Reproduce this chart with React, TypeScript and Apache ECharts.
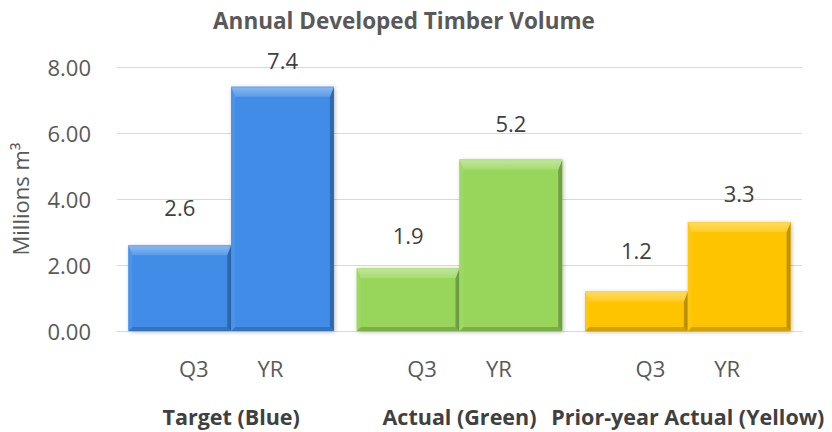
import React, { useEffect, useRef } from "react";
import * as echarts from "echarts";

// Chart data
const groups = ["Target (Blue)", "Actual (Green)", "Prior-year Actual (Yellow)"];
const periods = ["Q3", "YR"];
const q3Values = [2.6, 1.9, 1.2];
const yrValues = [7.4, 5.2, 3.3];
const yTicks = [0, 2, 4, 6, 8];

// Styling
const groupColors = ["#3f8ce6", "#97d65a", "#fec400"];
const FONT = "'Open Sans', 'DejaVu Sans', sans-serif";
// how far each value label sits above the top of its bar (px)
const labelLift = [
  [38, 33, 41],
  [27, 36, 29],
];

function shade(hex: string, amt: number): string {
  const n = parseInt(hex.slice(1), 16);
  let r = (n >> 16) & 255;
  let g = (n >> 8) & 255;
  let b = n & 255;
  const f = (c: number) =>
    Math.round(amt >= 0 ? c + (255 - c) * amt : c * (1 + amt));
  r = f(r);
  g = f(g);
  b = f(b);
  return "#" + ((1 << 24) | (r << 16) | (g << 8) | b).toString(16).slice(1);
}

function bevelSeries(values: number[], slot: number) {
  return {
    type: "custom",
    name: periods[slot],
    coordinateSystem: "cartesian2d",
    data: values.map((v, i) => [i, v]),
    encode: { x: 0, y: 1 },
    z: 3,
    renderItem: (_params: any, api: any) => {
      const i = api.value(0) as number;
      const v = api.value(1) as number;
      const base = api.coord([i, 0]);
      const top = api.coord([i, v]);
      const band = api.size([1, 0])[0];
      const barW = (band * 0.9) / 2;
      const x0 = base[0] - barW + slot * barW;
      const x1 = x0 + barW;
      const y0 = top[1];
      const y1 = base[1];
      const color = groupColors[i];
      const bt = 10; // top facet
      const bs = 4; // side facets
      const bb = 4; // bottom facet
      return {
        type: "group",
        children: [
          {
            type: "rect",
            shape: { x: x0, y: y0, width: barW, height: y1 - y0 },
            style: {
              fill: color,
              shadowColor: "rgba(0,0,0,0.28)",
              shadowBlur: 4,
              shadowOffsetX: 1,
              shadowOffsetY: 1,
            },
          },
          {
            type: "polygon",
            shape: {
              points: [
                [x0, y1],
                [x1, y1],
                [x1 - bs, y1 - bb],
                [x0 + bs, y1 - bb],
              ],
            },
            style: { fill: shade(color, -0.18) },
          },
          {
            type: "polygon",
            shape: {
              points: [
                [x1, y0],
                [x1, y1],
                [x1 - bs, y1 - bb],
                [x1 - bs, y0 + bt],
              ],
            },
            style: { fill: shade(color, -0.25) },
          },
          {
            type: "polygon",
            shape: {
              points: [
                [x0, y0],
                [x0, y1],
                [x0 + bs, y1 - bb],
                [x0 + bs, y0 + bt],
              ],
            },
            style: { fill: shade(color, 0.06) },
          },
          {
            type: "polygon",
            shape: {
              points: [
                [x0, y0],
                [x1, y0],
                [x1 - bs, y0 + bt],
                [x0 + bs, y0 + bt],
              ],
            },
            style: {
              fill: new echarts.graphic.LinearGradient(0, 0, 0, 1, [
                { offset: 0, color: shade(color, 0.4) },
                { offset: 1, color: shade(color, 0.14) },
              ]),
            },
          },
          {
            type: "line",
            shape: { x1: x0, y1: y0 + 0.5, x2: x1, y2: y0 + 0.5 },
            style: { stroke: shade(color, 0.25), lineWidth: 1 },
          },
          {
            type: "text",
            style: {
              text: v.toFixed(1),
              x: (x0 + x1) / 2,
              y: y0 - labelLift[slot][i],
              align: "center",
              verticalAlign: "middle",
              fill: "#404040",
              font: `22px ${FONT}`,
            },
          },
        ],
      };
    },
  };
}

export default function App() {
  const ref = useRef<HTMLDivElement>(null);

  useEffect(() => {
    if (!ref.current) return;
    const chart = echarts.init(ref.current, undefined, { renderer: "svg" });
    chart.setOption({
      animation: false,
      backgroundColor: "#ffffff",
      textStyle: { fontFamily: FONT },
      title: {
        text: "Annual Developed Timber Volume",
        left: 399,
        top: 4,
        textAlign: "center",
        textStyle: {
          fontFamily: FONT,
          fontSize: 22.5,
          fontWeight: "bold",
          color: "#595959",
        },
      },
      grid: { left: 117, right: 30, top: 67, bottom: 101, containLabel: false },
      xAxis: {
        type: "category",
        data: groups,
        axisLine: { show: true, lineStyle: { color: "#d9d9d9", width: 1 } },
        axisTick: { show: false },
        axisLabel: {
          interval: 0,
          margin: 12,
          formatter: (v: string) =>
            `{q|${periods[0]}}{sp| }{q|${periods[1]}}\n{g|${v}}`,
          rich: {
            q: { fontFamily: FONT, fontSize: 22, color: "#595959", lineHeight: 49 },
            sp: { width: 49, fontSize: 22, lineHeight: 49 },
            g: {
              fontFamily: FONT,
              fontSize: 21.5,
              fontWeight: "bold",
              color: "#404040",
              lineHeight: 49,
            },
          },
        },
      },
      yAxis: {
        type: "value",
        min: yTicks[0],
        max: yTicks[yTicks.length - 1],
        interval: yTicks[1] - yTicks[0],
        name: "Millions m³",
        nameLocation: "middle",
        nameRotate: 90,
        nameGap: 86,
        nameTextStyle: { fontFamily: FONT, fontSize: 22, color: "#595959" },
        axisLine: { show: false },
        axisTick: { show: false },
        axisLabel: {
          margin: 26,
          fontFamily: FONT,
          fontSize: 22,
          color: "#595959",
          formatter: (v: number) => v.toFixed(2),
        },
        splitLine: { lineStyle: { color: "#d9d9d9", width: 1 } },
      },
      series: [bevelSeries(q3Values, 0), bevelSeries(yrValues, 1)],
    });
    return () => chart.dispose();
  }, []);

  return (
    <div
      ref={ref}
      style={{ position: "fixed", left: 0, top: 0, width: 832, height: 432 }}
    />
  );
}
